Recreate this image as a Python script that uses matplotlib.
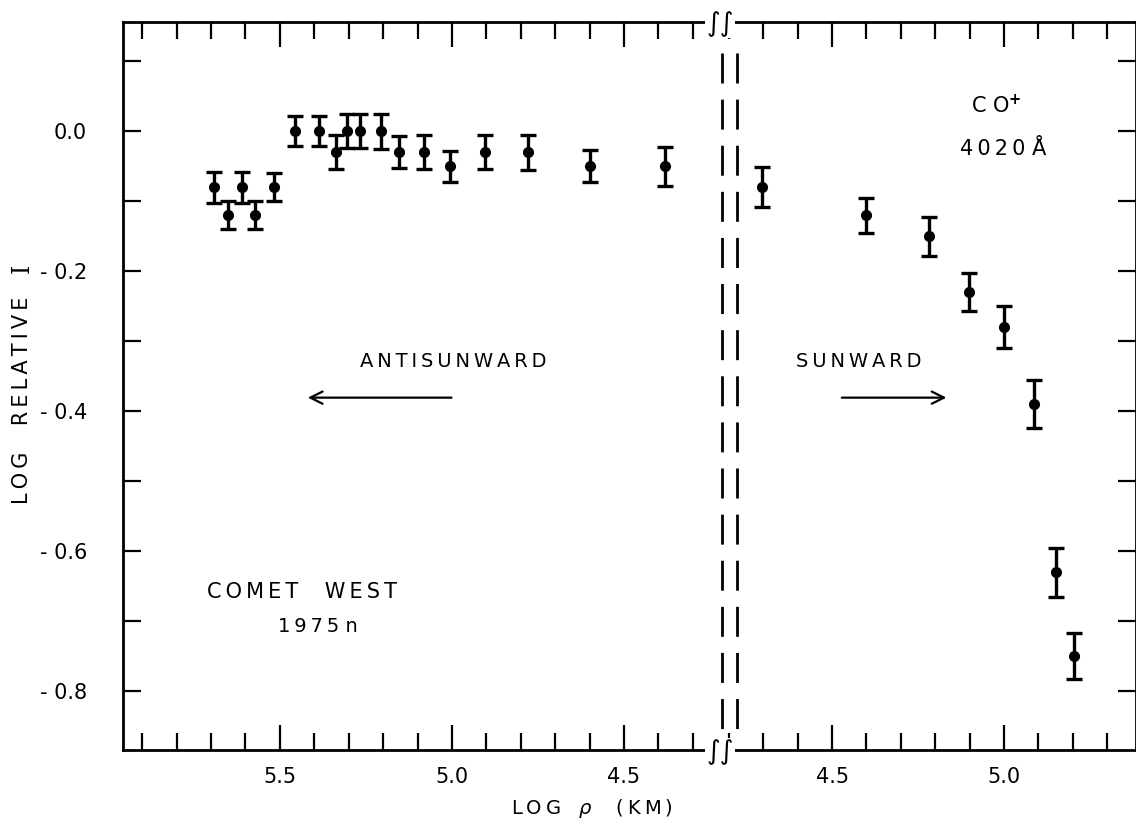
import matplotlib
matplotlib.use('Agg')
import matplotlib.pyplot as plt
from matplotlib.ticker import MultipleLocator, FuncFormatter
from matplotlib.lines import Line2D

# antisunward side (log rho decreasing to the right)
anti_rho = [5.692, 5.651, 5.610, 5.573, 5.517, 5.456, 5.387, 5.337, 5.305,
            5.267, 5.206, 5.154, 5.081, 5.006, 4.904, 4.779, 4.599, 4.381]
anti_I = [-0.08, -0.12, -0.08, -0.12, -0.08, 0.00, 0.00, -0.03, 0.00,
          0.00, 0.00, -0.03, -0.03, -0.05, -0.03, -0.03, -0.05, -0.05]
anti_err = [0.022, 0.020, 0.022, 0.020, 0.020, 0.021, 0.021, 0.024, 0.024,
            0.024, 0.025, 0.023, 0.024, 0.022, 0.024, 0.025, 0.023, 0.028]

# sunward side (log rho increasing to the right)
sun_rho = [4.297, 4.599, 4.782, 4.898, 5.000, 5.087, 5.151, 5.203]
sun_I = [-0.08, -0.12, -0.15, -0.23, -0.28, -0.39, -0.63, -0.75]
sun_err = [0.029, 0.025, 0.028, 0.027, 0.030, 0.034, 0.035, 0.033]

W, H = 1136, 838
plt.rcParams['font.family'] = ['DejaVu Sans']


def spaced(s, sep='\u2009'):
    # wide lettering like the original stencil text
    return sep.join(s)


fig = plt.figure(figsize=(W / 100, H / 100), dpi=100)
bottom, height = (H - 750) / H, 728 / H
ax1 = fig.add_axes([123 / W, bottom, (720 - 123) / W, height])
ax2 = fig.add_axes([720 / W, bottom, (W - 720) / W, height], sharey=ax1)

err_style = dict(fmt='o', color='black', markersize=7, elinewidth=2.4,
                 capsize=5.5, capthick=2.4)
ax1.errorbar(anti_rho, anti_I, yerr=anti_err, **err_style)
ax2.errorbar(sun_rho, sun_I, yerr=sun_err, **err_style)

ax1.set_xlim(5.956, 4.221)
ax2.set_xlim(4.174, 5.384)
ax1.set_ylim(-0.884, 0.156)

for ax in (ax1, ax2):
    for sp in ax.spines.values():
        sp.set_linewidth(2)
    ax.xaxis.set_major_locator(MultipleLocator(0.5))
    ax.xaxis.set_minor_locator(MultipleLocator(0.1))
    ax.xaxis.set_major_formatter(FuncFormatter(lambda v, p: f'{v:.1f}'))
    ax.tick_params(axis='x', which='both', direction='in', top=True,
                   width=1.6, labelsize=15, pad=12)
    ax.tick_params(axis='x', which='major', length=18)
    ax.tick_params(axis='x', which='minor', length=12)

ax1.spines['right'].set_visible(False)
ax2.spines['left'].set_visible(False)

ax1.yaxis.set_major_locator(MultipleLocator(0.2))
ax1.yaxis.set_minor_locator(MultipleLocator(0.1))
ax1.yaxis.set_major_formatter(
    FuncFormatter(lambda v, p: '0.0' if abs(v) < 1e-9 else f'- {abs(v):.1f}'))
ax1.tick_params(axis='y', which='both', direction='in', left=True, right=False,
                length=13, width=1.6, labelsize=15, pad=26)
ax2.tick_params(axis='y', which='both', direction='in', left=False, right=True,
                labelleft=False, labelright=False, length=13, width=1.6)

# dashed double line at the break (drawn top-down so a dash starts at the top)
for xp in (722, 737):
    fig.add_artist(Line2D([xp / W, xp / W], [(H - 53) / H, (H - 742) / H],
                          color='black', linewidth=2, linestyle=(0, (10.8, 5.8)),
                          zorder=1))

# break marks on the x axis
bx = 720 / W
for yy in ((H - 24) / H, (H - 752) / H):
    fig.text(bx, yy, '\u222b\u222b', fontsize=19, ha='center', va='center',
             bbox=dict(boxstyle='square,pad=0.05', fc='white', ec='none'),
             zorder=10)

# annotations
ax1.text(0.553, 0.533, spaced('ANTISUNWARD'), transform=ax1.transAxes,
         fontsize=14, ha='center', va='center')
ax1.annotate('', xy=(0.305, 0.484), xytext=(0.555, 0.484),
             xycoords='axes fraction',
             arrowprops=dict(arrowstyle='->', lw=1.6, color='black',
                             mutation_scale=22))
ax2.text(0.334, 0.533, spaced('SUNWARD'), transform=ax2.transAxes,
         fontsize=14, ha='center', va='center')
ax2.annotate('', xy=(0.551, 0.484), xytext=(0.286, 0.484),
             xycoords='axes fraction',
             arrowprops=dict(arrowstyle='->', lw=1.6, color='black',
                             mutation_scale=22))

ax2.text(0.665, 0.885, 'C O$^{\\mathbf{+}}$', transform=ax2.transAxes,
         fontsize=15, ha='center', va='center')
ax2.text(0.68, 0.826, spaced('4020') + ' Å', transform=ax2.transAxes,
         fontsize=15, ha='center', va='center')

ax1.text(0.299, 0.217, spaced('COMET') + '    ' + spaced('WEST'),
         transform=ax1.transAxes, fontsize=15, ha='center', va='center')
ax1.text(0.327, 0.170, spaced('1975') + ' n', transform=ax1.transAxes,
         fontsize=14, ha='center', va='center')

# axis labels
fig.text(22 / W, (H - 400) / H, spaced('LOG') + '    ' + spaced('RELATIVE'),
         rotation=90, fontsize=15, ha='center', va='center')
fig.text(22 / W, (H - 268) / H, 'I', family='DejaVu Serif', rotation=90,
         fontsize=17, ha='center', va='center')
fig.text(592 / W, (H - 808) / H, spaced('LOG') + '   $\\rho$    ' + spaced('(KM)'),
         fontsize=14, ha='center', va='center')

fig.savefig('out.png', dpi=100)
